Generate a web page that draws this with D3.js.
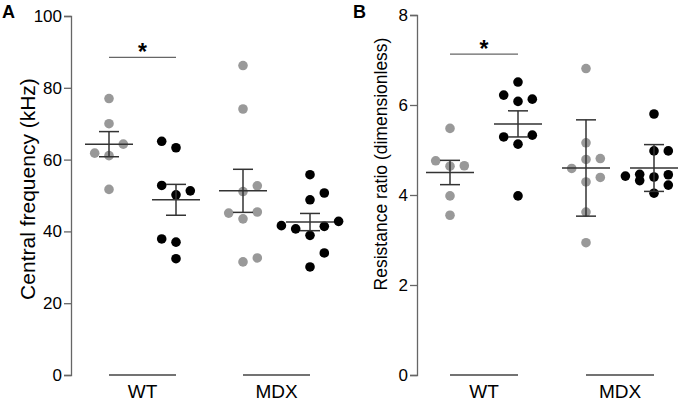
<!DOCTYPE html>
<html>
<head>
<meta charset="utf-8">
<script src="https://cdn.jsdelivr.net/npm/d3@7"></script>
<style>
  body { margin: 0; background: #fff; }
  svg text { font-family: "Liberation Sans", Arial, sans-serif; fill: #000; }
</style>
</head>
<body>
<svg width="681" height="403"></svg>
<script>
// groups, left to right, in each panel
const groups = ["WT grey", "WT black", "MDX grey", "MDX black"];
const genotypes = ["WT", "MDX"];

// Panel A - central frequency (kHz)
const freqWTgrey   = [77.0, 70.0, 61.1, 61.8, 64.3, 51.7];
const freqWTblack  = [50.2, 52.8, 51.3, 63.3, 65.1, 37.0, 37.9, 32.4];
const freqMDXgrey  = [86.2, 74.1, 51.1, 52.7, 43.5, 45.4, 45.1, 31.5, 32.6];
const freqMDXblack = [55.8, 48.8, 50.7, 30.1, 34.0, 38.9, 41.4, 40.7, 41.6, 42.8];
const freqMeans = [64.3, 48.8, 51.3, 42.6];
const freqErrs  = [3.5, 4.3, 6.0, 2.4];
const freqTicks = [0, 20, 40, 60, 80, 100];

// Panel B - resistance ratio
const ratioWTgrey   = [5.48, 4.64, 4.76, 4.65, 3.98, 3.55];
const ratioWTblack  = [6.51, 6.08, 6.22, 6.13, 5.13, 5.29, 5.33, 3.98];
const ratioMDXgrey  = [6.81, 5.16, 4.79, 4.29, 4.39, 4.59, 4.81, 3.62, 2.94];
const ratioMDXblack = [5.80, 4.98, 4.98, 4.40, 4.45, 4.32, 4.42, 4.46, 4.04, 4.22];
const ratioMeans = [4.50, 5.58, 4.60, 4.60];
const ratioErrs  = [0.27, 0.29, 1.07, 0.52];
const ratioTicks = [0, 2, 4, 6, 8];

const svg = d3.select("svg");
const R = 4.8, STEP = 14.3;

// simple column swarm: take the first free column, else the least crowded one
function swarm(vals, y, cx, side, gap, maxX) {
  const placed = [];
  const cols = [0, side, -side, -2 * side, 2 * side].filter(c => cx + c * STEP + R <= maxX);
  return vals.map(v => {
    const py = y(v);
    let best = null, bestD = -1;
    for (const c of cols) {
      const ds = placed.filter(p => p.c === c).map(p => Math.abs(p.py - py));
      const d = ds.length ? d3.min(ds) : Infinity;
      if (d >= gap) { best = c; break; }
      if (d > bestD) { bestD = d; best = c; }
    }
    placed.push({c: best, py: py});
    return {v: v, c: best};
  });
}

function drawPanel(p) {
  const g = svg.append("g");
  const y = d3.scaleLinear().domain([0, p.ticks[p.ticks.length - 1]]).range(p.yRange);
  const x = d3.scalePoint().domain(groups).range(p.xRange);

  g.append("g")
    .attr("transform", "translate(" + p.axisX + ",0)")
    .call(d3.axisLeft(y).tickValues(p.ticks).tickSizeOuter(0).tickSize(7).tickPadding(2))
    .call(a => a.selectAll("path,line").attr("stroke", "#666").attr("stroke-width", 1.3))
    .call(a => a.selectAll("text").style("font-size", "17px"));

  g.append("text")
    .attr("transform", "translate(" + p.titleX + "," + p.titleY + ") rotate(-90)")
    .attr("text-anchor", "middle")
    .attr("dy", "0.35em")
    .style("font-size", p.titleSize + "px")
    .text(p.title);

  g.append("text")
    .attr("x", p.letterX).attr("y", 18)
    .style("font-size", "18px").attr("font-weight", "bold")
    .text(p.letter);

  // dots
  p.series.forEach((vals, i) => {
    const side = groups[i].startsWith("WT") ? -1 : 1;
    g.append("g").selectAll("circle")
      .data(swarm(vals, y, x(groups[i]), side, p.gap, p.maxX))
      .enter().append("circle")
      .attr("cx", d => x(groups[i]) + d.c * STEP)
      .attr("cy", d => y(d.v))
      .attr("r", R)
      .attr("fill", groups[i].endsWith("grey") ? "#999999" : "#000000");
  });

  // mean and error bars
  const eb = g.append("g").attr("stroke", "#333").attr("stroke-width", 1.5);
  groups.forEach((k, i) => {
    const cx = x(k), m = p.means[i], e = p.errs[i];
    eb.append("line").attr("x1", cx - 24).attr("x2", cx + 24).attr("y1", y(m)).attr("y2", y(m));
    eb.append("line").attr("x1", cx).attr("x2", cx).attr("y1", y(m - e)).attr("y2", y(m + e));
    eb.append("line").attr("x1", cx - 10).attr("x2", cx + 10).attr("y1", y(m + e)).attr("y2", y(m + e));
    eb.append("line").attr("x1", cx - 10).attr("x2", cx + 10).attr("y1", y(m - e)).attr("y2", y(m - e));
  });

  // genotype lines and labels
  genotypes.forEach(gt => {
    const x1 = x(gt + " grey"), x2 = x(gt + " black");
    g.append("line")
      .attr("x1", x1).attr("x2", x2).attr("y1", y(0)).attr("y2", y(0))
      .attr("stroke", "#444").attr("stroke-width", 1.5);
    g.append("text")
      .attr("x", (x1 + x2) / 2).attr("y", 398)
      .attr("text-anchor", "middle").style("font-size", "19px")
      .text(gt);
  });

  // significance
  const s1 = x("WT grey"), s2 = x("WT black"), sy = y(p.sig);
  g.append("line")
    .attr("x1", s1).attr("x2", s2).attr("y1", sy).attr("y2", sy)
    .attr("stroke", "#666").attr("stroke-width", 1.3);
  g.append("text")
    .attr("x", (s1 + s2) / 2).attr("y", sy + 3)
    .attr("text-anchor", "middle").style("font-size", "23px").attr("font-weight", "bold")
    .text("*");
}

drawPanel({
  letter: "A", letterX: 2,
  axisX: 71, yRange: [375, 16], xRange: [109, 310],
  ticks: freqTicks, gap: 15, maxX: 345,
  title: "Central frequency (kHz)", titleX: 28, titleY: 189, titleSize: 21,
  series: [freqWTgrey, freqWTblack, freqMDXgrey, freqMDXblack],
  means: freqMeans, errs: freqErrs, sig: 88.5
});

drawPanel({
  letter: "B", letterX: 353,
  axisX: 417, yRange: [375, 15], xRange: [450, 654],
  ticks: ratioTicks, gap: 10, maxX: 678,
  title: "Resistance ratio (dimensionless)", titleX: 381, titleY: 164, titleSize: 17.5,
  series: [ratioWTgrey, ratioWTblack, ratioMDXgrey, ratioMDXblack],
  means: ratioMeans, errs: ratioErrs, sig: 7.13
});
</script>
</body>
</html>
